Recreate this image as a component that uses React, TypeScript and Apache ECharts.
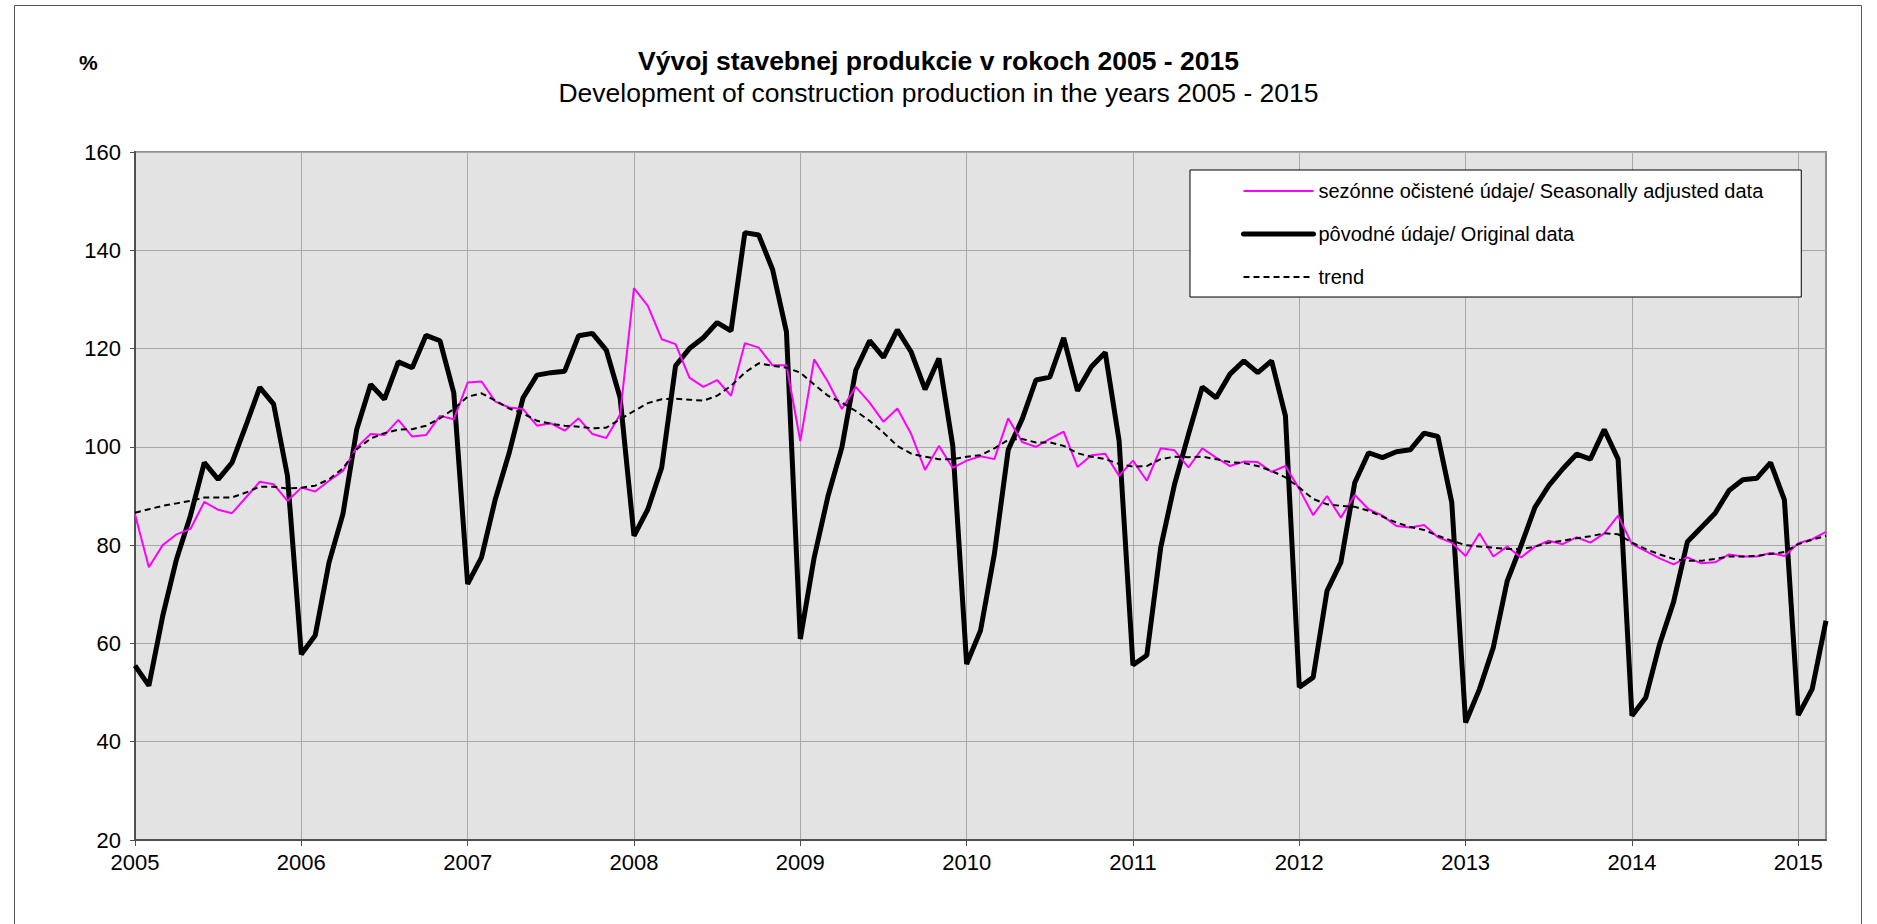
import React, { useEffect, useRef } from "react";
import * as echarts from "echarts";

const yearLabels = ["2005", "2006", "2007", "2008", "2009", "2010", "2011", "2012", "2013", "2014", "2015"];

const seasonallyAdjusted = [
  86.3, 75.5, 80, 82.2, 83.3, 88.8, 87.2, 86.5, 89.7, 92.9, 92.4, 89,
  91.7, 90.9, 93.1, 95.1, 99.9, 102.6, 102.4, 105.5, 102.1, 102.4, 106.3, 105.6,
  113.1, 113.3, 109.2, 108, 107.7, 104.3, 104.8, 103.3, 105.8, 102.6, 101.8, 106.6,
  132.3, 128.7, 121.9, 120.9, 114.1, 112.2, 113.6, 110.4, 121.1, 120.2, 116.6, 116.6,
  101.2, 117.8, 113.2, 107.7, 112.2, 109, 105.1, 107.8, 102.6, 95.3, 100.2, 95.7,
  97.2, 98.1, 97.5, 105.8, 101, 100, 101.6, 103.1, 95.9, 98.3, 98.6, 94.1,
  97.2, 93.1, 99.7, 99.3, 95.8, 99.7, 97.8, 96.1, 97, 96.9, 94.9, 96.1,
  91.4, 86.1, 90, 85.6, 90.2, 87.3, 86, 83.9, 83.6, 84.1, 81.6, 80.5,
  77.8, 82.4, 77.7, 79.7, 77.5, 79.7, 80.9, 80.2, 81.6, 80.5, 82.4, 86,
  80.2, 78.8, 77.3, 76.1, 77.5, 76.3, 76.5, 78.1, 77.7, 77.7, 78.4, 77.8,
  80.4, 81.2, 82.7,
];

const originalData = [
  55.5, 51.4, 65.6, 77.2, 86, 96.8, 93.4, 96.8, 104.3, 112.1, 108.7, 94.1,
  57.8, 61.6, 76.5, 86.3, 103.6, 112.7, 109.7, 117.3, 116.1, 122.7, 121.6, 111,
  72.1, 77.5, 89.4, 98.8, 110, 114.6, 115.1, 115.4, 122.6, 123.1, 119.7, 110,
  81.9, 87.3, 95.8, 116.5, 120, 122.2, 125.3, 123.6, 143.6, 143.1, 136.1, 123.4,
  60.9, 77.5, 90, 99.9, 115.6, 121.6, 118.2, 123.8, 119.3, 111.7, 118, 100.2,
  55.8, 62.6, 78.2, 99.4, 105.6, 113.6, 114.2, 122.2, 111.4, 116.3, 119.2, 101.2,
  55.6, 57.6, 79.5, 92.4, 102.5, 112.2, 110, 114.8, 117.5, 115.1, 117.5, 106.3,
  51.1, 53.1, 70.7, 76.5, 92.7, 98.8, 97.8, 99, 99.4, 102.8, 102.1, 88.7,
  43.9, 50.7, 59.2, 72.7, 79.9, 87.7, 92.1, 95.5, 98.5, 97.5, 103.5, 97.5,
  45.3, 49, 59.9, 68.4, 80.7, 83.6, 86.5, 91.1, 93.3, 93.6, 96.8, 89.2,
  45.4, 50.7, 64.6,
];

const trendData = [
  86.6, 87.3, 88, 88.5, 89, 89.7, 89.7, 89.7, 90.7, 91.9, 91.9, 91.5,
  91.7, 92.1, 93.4, 95.6, 99.5, 101.7, 102.8, 103.5, 103.6, 104.3, 105.8, 107.7,
  110.2, 110.9, 109.4, 107.8, 106.8, 105.3, 104.7, 104.3, 104.1, 103.8, 103.9, 105.6,
  107.3, 108.9, 109.7, 109.8, 109.6, 109.4, 110.4, 112.4, 115.1, 117, 116.5, 116.1,
  115.1, 112.7, 110.4, 109, 107.3, 105.3, 102.9, 100.2, 98.6, 98, 97.5, 97.5,
  98, 98.3, 99.7, 101.4, 101.6, 100.9, 100.9, 100.2, 98.7, 98, 97.5, 96.5,
  96, 96.1, 97.5, 98, 97.9, 98, 97.5, 96.9, 96.7, 96.1, 95.1, 93.8,
  91.7, 89.4, 88.3, 88, 87.8, 87, 85.8, 84.6, 83.7, 83.1, 81.9, 80.9,
  80, 79.7, 79.5, 79.2, 79.2, 79.7, 80.5, 80.9, 81.4, 81.8, 82.4, 82.2,
  80.5, 79.2, 78.1, 77.2, 76.8, 76.8, 77.2, 77.7, 77.7, 77.8, 78.2, 78.6,
  80.2, 81.1, 81.9,
];

const seriesNames = [
  "sezónne očistené údaje/ Seasonally adjusted data",
  "pôvodné údaje/ Original data",
  "trend",
];

const titleSk = "Vývoj stavebnej produkcie v rokoch 2005 - 2015";
const titleEn = "Development of construction production in the years 2005 - 2015";

const FONT = "'Liberation Sans', Arial, sans-serif";

export default function App() {
  const ref = useRef<HTMLDivElement>(null);

  useEffect(() => {
    if (!ref.current) return;
    const chart = echarts.init(ref.current, undefined, { renderer: "svg" });
    const months = originalData.map((_, i) => String(i));
    const isYear = (i: number) => i % 12 === 0;

    chart.setOption({
      animation: false,
      backgroundColor: "#ffffff",
      textStyle: { fontFamily: FONT },
      title: [
        {
          text: titleSk,
          left: "center",
          top: 47,
          padding: 0,
          textStyle: { fontFamily: FONT, fontSize: 26.5, fontWeight: "bold", color: "#000" },
        },
        {
          text: titleEn,
          left: "center",
          top: 79,
          padding: 0,
          textStyle: { fontFamily: FONT, fontSize: 26.5, fontWeight: "normal", color: "#000" },
        },
        {
          text: "%",
          left: 79,
          top: 52,
          padding: 0,
          textStyle: { fontFamily: FONT, fontSize: 21, fontWeight: "bold", color: "#000" },
        },
      ],
      graphic: [
        {
          type: "rect",
          shape: { x: 14.5, y: 5.5, width: 1847, height: 1000 },
          style: { fill: "none", stroke: "#555", lineWidth: 1 },
          silent: true,
        },
      ],
      legend: {
        orient: "vertical",
        left: 1190,
        top: 170,
        padding: [11, 38, 10, 51],
        itemWidth: 70,
        itemHeight: 20,
        itemGap: 23,
        backgroundColor: "#ffffff",
        borderColor: "#000",
        borderWidth: 1,
        data: [
          { name: seriesNames[0], lineStyle: { width: 2, color: "#ff00ff" } },
          { name: seriesNames[1], lineStyle: { width: 5, color: "#000", cap: "round" } },
          { name: seriesNames[2], lineStyle: { width: 2, color: "#000", type: [6, 4] } },
        ],
        itemStyle: { opacity: 0, borderWidth: 0 },
        textStyle: { fontFamily: FONT, fontSize: 20, color: "#000", lineHeight: 20 },
      },
      grid: {
        left: 135,
        top: 152,
        right: 51,
        bottom: 84,
        show: true,
        backgroundColor: "#e3e3e3",
        borderColor: "#8f8f8f",
        borderWidth: 2,
      },
      xAxis: {
        type: "category",
        data: months,
        boundaryGap: false,
        axisLine: { show: true, lineStyle: { color: "#505050", width: 2 } },
        axisTick: { show: true, length: 6, interval: (i: number) => isYear(i), lineStyle: { color: "#505050" } },
        splitLine: { show: true, interval: (i: number) => isYear(i), lineStyle: { color: "#a8a8a8", width: 1 } },
        axisLabel: {
          interval: (i: number) => isYear(i),
          formatter: (_v: string, i: number) => (isYear(i) ? yearLabels[i / 12] : ""),
          fontFamily: FONT,
          fontSize: 22,
          color: "#000",
          margin: 11,
        },
      },
      yAxis: {
        type: "value",
        min: 20,
        max: 160,
        interval: 20,
        axisLine: { show: true, lineStyle: { color: "#505050", width: 2 } },
        axisTick: { show: true, length: 5, lineStyle: { color: "#505050" } },
        splitLine: { show: true, lineStyle: { color: "#a8a8a8", width: 1 } },
        axisLabel: { fontFamily: FONT, fontSize: 22, color: "#000", margin: 14 },
      },
      series: [
        {
          name: seriesNames[1],
          type: "line",
          data: originalData,
          symbol: "none",
          lineStyle: { color: "#000", width: 5 },
          itemStyle: { color: "#000" },
          z: 2,
        },
        {
          name: seriesNames[0],
          type: "line",
          data: seasonallyAdjusted,
          symbol: "none",
          lineStyle: { color: "#ff00ff", width: 2 },
          itemStyle: { color: "#ff00ff" },
          z: 3,
        },
        {
          name: seriesNames[2],
          type: "line",
          data: trendData,
          symbol: "none",
          lineStyle: { color: "#000", width: 2, type: [6, 4] },
          itemStyle: { color: "#000" },
          z: 4,
        },
      ],
    });

    return () => chart.dispose();
  }, []);

  return (
    <div
      ref={ref}
      style={{ position: "fixed", left: 0, top: 0, width: 1877, height: 924 }}
    />
  );
}
